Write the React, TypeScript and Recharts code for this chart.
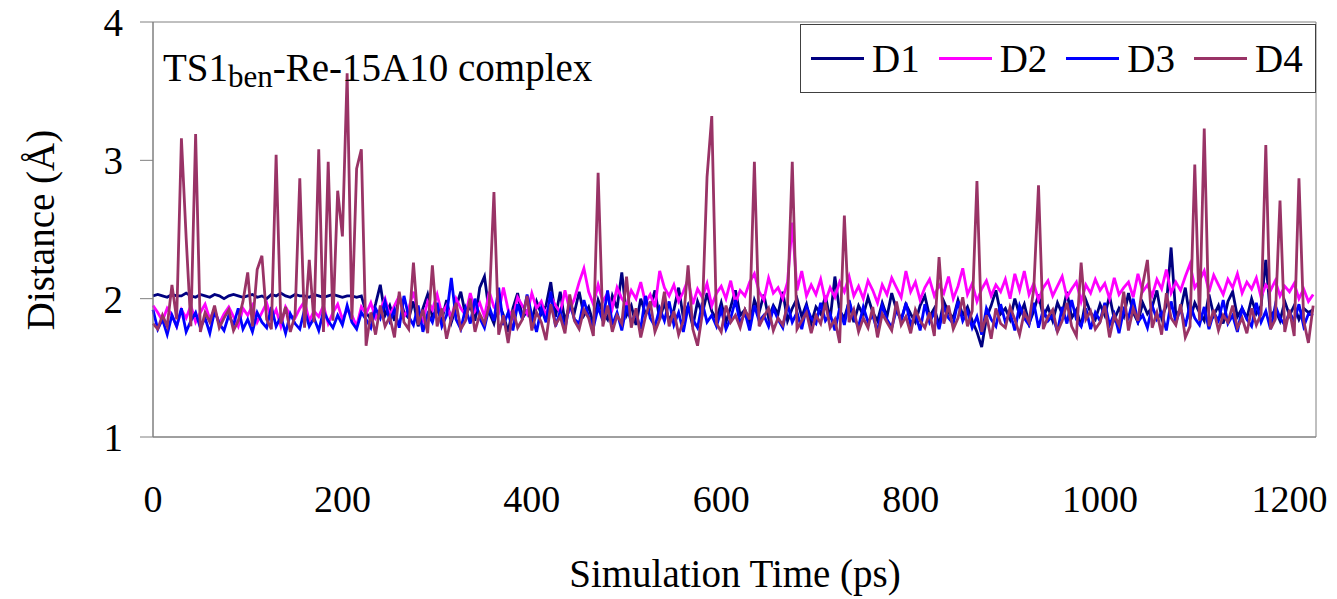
import React from 'react'
import { LineChart, Line, XAxis, YAxis, Legend, ReferenceArea } from 'recharts'

// time step between samples (ps)
const step = 5

const d1 = [
  2.02, 2.03, 2.02, 2.01, 2.03, 2.02, 2.02, 2.04, 2.02, 2.01,
  2.03, 2.02, 2.01, 2.03, 2.02, 2.00, 2.02, 2.03, 2.02, 2.01,
  2.02, 2.03, 2.01, 2.02, 2.00, 2.03, 2.02, 2.04, 2.02, 2.01,
  2.03, 2.02, 2.02, 2.01, 2.03, 2.02, 2.01, 2.02, 2.03, 2.02,
  2.01, 2.02, 2.02, 2.01, 2.02, 1.90, 1.85, 1.96, 2.10, 1.88,
  1.95, 1.84, 2.02, 1.90, 1.86, 1.98, 1.80, 1.93, 2.03, 1.87,
  1.92, 1.85, 1.99, 1.83, 1.94, 2.05, 1.88, 1.95, 1.84, 2.08,
  2.16, 1.90, 1.82, 1.97, 1.88, 1.76, 1.93, 2.04, 1.86, 1.91,
  1.84, 1.98, 1.89, 1.95, 2.12, 1.87, 2.05, 1.83, 1.96, 1.90,
  2.05, 1.88, 1.94, 1.82, 1.99, 1.90, 1.85, 2.02, 1.93, 2.19,
  1.88, 1.95, 1.81, 2.00, 1.89, 1.93, 2.06, 1.85, 1.97, 1.84,
  1.92, 2.08, 1.86, 1.95, 1.80, 1.98, 1.89, 2.04, 1.91, 1.85,
  1.97, 1.83, 1.94, 2.06, 1.88, 1.92, 1.81, 1.99, 1.90, 2.03,
  1.86, 1.95, 1.89, 2.05, 1.84, 1.93, 2.00, 1.87, 1.96, 1.82,
  1.94, 1.89, 2.02, 1.85, 2.16, 1.91, 1.86, 1.98, 1.83, 1.95,
  1.88, 2.01, 1.90, 1.84, 1.97, 1.87, 2.04, 1.92, 1.85, 1.96,
  1.89, 1.83, 1.95, 2.02, 1.87, 1.93, 1.81, 1.98, 1.90, 1.86,
  1.99, 1.88, 1.94, 1.84, 1.76, 1.65, 1.86, 1.95, 2.06, 1.89,
  1.93, 1.85, 2.00, 1.88, 1.96, 1.82, 1.91, 2.03, 1.87, 1.94,
  1.84, 1.97, 1.89, 2.05, 1.86, 1.92, 1.80, 1.99, 1.90, 1.85,
  1.96, 1.88, 2.02, 1.85, 1.93, 1.87, 2.04, 1.90, 1.83, 1.97,
  1.89, 1.94, 2.06, 1.86, 1.95, 2.37, 1.88, 1.92, 2.08, 1.85,
  1.97, 1.90, 1.84, 2.03, 1.88, 1.95, 1.82, 1.98, 2.05, 1.87,
  1.93, 1.86, 2.00, 1.89, 1.95, 2.28, 1.87, 1.92, 1.84, 1.98,
  1.88, 1.95, 1.85, 1.93, 1.90, 1.92,
]

const d2 = [
  1.95, 1.90, 1.84, 1.93, 1.88, 1.80, 1.92, 1.86, 1.95, 1.83,
  1.90, 1.96, 1.85, 1.92, 1.82, 1.89, 1.94, 1.87, 1.80, 1.93,
  1.88, 1.95, 1.83, 1.90, 1.97, 1.85, 1.92, 1.80, 1.94, 1.88,
  1.86, 1.93, 1.98, 1.84, 1.91, 1.87, 1.95, 1.82, 1.90, 1.96,
  1.85, 1.92, 1.88, 1.80, 1.94, 1.89, 1.97, 1.86, 1.92, 2.00,
  1.88, 1.95, 2.02, 1.87, 1.93, 2.05, 1.90, 1.84, 1.98, 1.92,
  2.03, 1.89, 1.95, 1.86, 2.00, 1.93, 1.88, 2.04, 1.91, 1.97,
  1.87, 2.05, 1.94, 1.90, 2.08, 1.92, 1.86, 2.01, 1.95, 1.89,
  2.04, 1.93, 1.98, 1.87, 2.02, 1.95, 1.90, 2.06, 1.92, 2.00,
  2.12, 2.22, 2.05, 1.96, 2.10, 1.98, 2.04, 1.93, 2.08, 2.00,
  1.95, 2.06, 2.00, 2.12, 1.97, 2.03, 1.94, 2.20, 2.08, 2.02,
  2.10, 1.98, 2.05, 2.14, 1.96, 2.07, 2.01, 2.11, 1.95, 2.04,
  2.09, 2.00, 2.13, 1.97, 2.06, 2.02, 2.12, 2.18, 2.05, 1.99,
  2.15, 2.04, 2.08, 2.00, 2.12, 2.55, 2.06, 2.20, 2.02, 2.10,
  2.03, 2.14, 1.98, 2.08, 2.01, 2.12, 2.05, 2.16, 2.02, 2.09,
  2.00, 2.13, 2.06, 1.97, 2.10, 2.03, 2.15, 2.08, 2.01, 2.20,
  2.05, 2.12, 1.99, 2.08, 2.14, 2.02, 2.10, 2.04, 2.16, 2.00,
  2.09, 2.22, 2.03, 2.11, 1.98, 2.07, 2.13, 2.02, 2.10, 2.05,
  2.14, 2.00, 2.18, 2.06, 2.20, 2.03, 2.11, 1.99, 2.08, 2.13,
  2.02, 2.09, 2.16, 2.01, 2.07, 2.12, 1.98, 2.10, 2.04, 2.14,
  2.06, 2.11, 2.00, 2.15, 2.03, 2.08, 2.12, 2.01, 2.18, 2.05,
  2.10, 2.02, 2.14, 2.07, 2.21, 2.04, 2.12, 2.06, 2.16, 2.25,
  2.08, 2.13, 2.20, 2.05, 2.17, 2.10, 2.03, 2.14, 2.08, 2.18,
  2.04, 2.12, 2.07, 2.15, 2.01, 2.10, 2.06, 2.13, 2.02, 2.09,
  2.05, 2.11, 2.00, 2.07, 1.98, 2.03,
]

const d3 = [
  1.92, 1.78, 1.85, 1.74, 1.88, 1.80, 1.93, 1.76, 1.84, 1.90,
  1.79, 1.86, 1.75, 1.91, 1.82, 1.77, 1.88, 1.81, 1.93, 1.78,
  1.85, 1.76, 1.90, 1.83, 1.79, 1.94, 1.80, 1.87, 1.75, 1.89,
  1.82, 1.78, 1.92, 1.80, 1.86, 1.77, 1.91, 1.84, 1.79, 1.88,
  1.81, 1.95, 1.83, 1.78, 1.90, 1.85, 1.79, 1.93, 1.86, 1.98,
  1.84, 1.92, 1.79, 2.02, 1.87, 1.81, 1.95, 1.76, 1.89, 1.83,
  1.97, 1.80, 1.88, 2.15, 1.85, 1.78, 1.93, 1.82, 2.00, 1.86,
  1.79, 1.94, 1.84, 2.08, 1.81, 1.90, 1.77, 1.96, 1.85, 2.03,
  1.88, 1.76, 1.93, 1.83, 2.05, 1.80, 1.91, 1.78, 1.97, 1.85,
  1.82, 1.99, 1.87, 1.79, 1.94, 1.84, 2.06, 1.81, 1.90, 1.77,
  1.95, 1.83, 1.89, 1.78, 2.02, 1.86, 1.80, 1.93, 1.84, 1.98,
  1.81, 1.90, 1.76, 1.94, 1.85, 1.79, 1.97, 1.83, 1.88, 1.80,
  1.92, 1.78, 1.86, 1.99, 1.82, 1.90, 1.77, 1.95, 1.84, 1.88,
  1.80, 1.93, 1.85, 1.79, 1.96, 1.83, 1.90, 1.78, 1.94, 1.86,
  1.82, 1.97, 1.84, 1.89, 1.77, 1.93, 1.81, 1.99, 1.86, 1.80,
  1.94, 1.83, 1.88, 1.76, 1.95, 1.85, 1.79, 1.92, 1.84, 1.97,
  1.81, 1.89, 1.77, 1.96, 1.83, 1.90, 1.78, 1.94, 1.86, 1.82,
  1.98, 1.84, 1.91, 1.79, 1.87, 1.74, 1.93, 1.85, 1.80, 1.96,
  1.83, 1.90, 1.77, 1.95, 1.86, 1.81, 1.97, 1.79, 1.92, 1.84,
  1.88, 1.76, 1.94, 1.82, 1.99, 1.85, 1.80, 1.93, 1.78, 1.90,
  1.84, 1.97, 1.81, 1.89, 1.75, 1.92, 1.86, 2.00, 1.83, 1.88,
  1.79, 1.95, 1.85, 1.90, 1.77, 1.98, 1.83, 1.93, 1.80, 1.96,
  1.86, 1.81, 1.94, 1.78, 1.90, 1.84, 1.99, 1.82, 1.88, 1.76,
  1.93, 1.85, 1.80, 1.97, 1.83, 1.91, 1.78, 1.95, 1.86, 1.81,
  1.90, 1.84, 1.96, 1.80, 1.89, 1.88,
]

const d4 = [
  1.82, 1.78, 1.88, 1.80, 2.10, 1.85, 3.16, 2.44, 1.80, 3.19,
  1.76, 1.90, 1.83, 1.95, 1.79, 1.86, 1.92, 1.77, 1.84, 1.98,
  2.19, 1.80, 2.21, 2.31, 1.85, 1.78, 3.04, 1.82, 1.94, 1.76,
  1.88, 2.87, 1.79, 2.28, 1.83, 3.08, 1.76, 2.99, 1.84, 2.78,
  2.45, 3.63, 1.85, 2.94, 3.08, 1.66, 1.90, 1.74, 1.95, 1.80,
  1.87, 1.72, 2.05, 1.83, 1.78, 2.26, 1.81, 1.92, 1.75, 2.24,
  1.80, 1.93, 1.71, 1.86, 1.97, 1.78, 1.84, 2.00, 1.76, 1.89,
  1.82, 1.95, 2.77, 1.74, 1.88, 1.68, 1.92, 1.79, 1.85, 2.02,
  1.77, 1.90, 1.83, 1.70, 1.96, 1.81, 1.87, 1.75, 2.03, 1.84,
  1.78, 1.92, 1.86, 1.73, 2.91, 1.80, 1.95, 1.76, 1.88, 1.82,
  2.16, 1.79, 1.93, 1.72, 1.87, 1.98, 1.76, 1.85, 2.05, 1.80,
  1.91, 1.74, 1.84, 2.24, 1.78, 1.66, 1.89, 2.88, 3.32, 1.82,
  1.76, 1.95, 1.83, 1.88, 1.79, 1.92, 1.85, 2.99, 1.80, 1.87,
  1.93, 1.77, 1.86, 1.81, 1.96, 2.99, 1.78, 1.84, 1.90, 1.75,
  1.88, 1.82, 1.97, 1.79, 1.85, 1.68, 2.60, 1.83, 1.92, 1.76,
  1.86, 1.79, 1.94, 1.72, 1.89, 1.83, 1.77, 1.98, 1.81, 1.87,
  1.75, 1.92, 1.84, 1.79, 1.90, 1.73, 2.30, 1.82, 1.95, 1.78,
  1.86, 2.01, 1.80, 1.91, 2.85, 1.76, 1.88, 1.71, 1.93, 1.82,
  1.79, 1.94, 1.85, 1.74, 1.90, 1.83, 2.07, 2.82, 1.78, 1.87,
  1.92, 1.76, 1.84, 1.97, 1.80, 1.73, 2.26, 1.85, 1.91, 1.78,
  1.83, 1.95, 1.72, 1.88, 1.81, 2.05, 1.77, 1.93, 1.84, 2.10,
  2.28, 1.79, 1.90, 1.74, 2.04, 1.86, 1.81, 1.96, 1.72, 1.80,
  2.97, 1.84, 3.23, 1.80, 1.92, 1.77, 1.88, 1.83, 1.95, 1.79,
  1.86, 1.75, 1.93, 1.81, 1.89, 3.11, 1.78, 1.85, 2.71, 1.76,
  1.92, 1.73, 2.87, 1.84, 1.68, 1.95,
]

const xTicks = [0, 200, 400, 600, 800, 1000, 1200]
const yTicks = [1, 2, 3, 4]

const series = [
  { key: 'D1', color: '#000080', values: d1 },
  { key: 'D2', color: '#FF00FF', values: d2 },
  { key: 'D3', color: '#0000FF', values: d3 },
  { key: 'D4', color: '#993366', values: d4 },
]

const chartData = d1.map((_, i) => ({
  time: i * step,
  D1: d1[i],
  D2: d2[i],
  D3: d3[i],
  D4: d4[i],
}))

const FONT = '"Liberation Serif", "Times New Roman", serif'

const renderLegend = (props: any) => {
  const { payload } = props
  return (
    <div style={{
      width: 516, height: 69, border: '1px solid #404040', background: '#fff',
      boxSizing: 'border-box', display: 'flex', alignItems: 'center', paddingLeft: 10,
      fontFamily: FONT,
    }}>
      {payload.map((entry: any) => (
        <div key={entry.value} style={{ display: 'flex', alignItems: 'center', marginRight: 19 }}>
          <span style={{ display: 'inline-block', width: 53, height: 3, background: entry.color, marginRight: 8 }} />
          <span style={{ fontSize: 39, lineHeight: '40px', color: '#000' }}>{entry.value}</span>
        </div>
      ))}
    </div>
  )
}

export default function App() {
  return (
    <div style={{ position: 'absolute', left: 0, top: 0, width: 1337, height: 599, background: '#fff', fontFamily: FONT }}>
      <LineChart width={1337} height={599} data={chartData} margin={{ top: 22, right: 21, left: 0, bottom: 0 }}>
        <ReferenceArea x1={0} x2={1228} y1={1} y2={4} fill="none" stroke="#808080" strokeWidth={1} ifOverflow="visible" />
        <XAxis
          dataKey="time"
          type="number"
          domain={[0, 1228]}
          ticks={xTicks}
          height={162}
          axisLine={{ stroke: '#808080' }}
          tickLine={false}
          tickSize={0}
          tickMargin={48}
          tick={{ fill: '#000', fontSize: 38, fontFamily: FONT }}
          label={{
            content: () => (
              <text x={735} y={587} textAnchor="middle" fontSize={39} fontFamily={FONT} fill="#000">
                Simulation Time (ps)
              </text>
            ),
          }}
        />
        <YAxis
          domain={[1, 4]}
          ticks={yTicks}
          width={153}
          axisLine={{ stroke: '#808080' }}
          tickLine={{ stroke: '#808080' }}
          tickSize={13}
          tickMargin={17}
          tick={{ fill: '#000', fontSize: 39, fontFamily: FONT }}
          label={{
            content: () => (
              <text x={40} y={230} transform="rotate(-90 40 230)" textAnchor="middle" dominantBaseline="central"
                fontSize={39} fontFamily={FONT} fill="#000">
                Distance (Å)
              </text>
            ),
          }}
        />
        <Legend
          content={renderLegend}
          layout="horizontal"
          verticalAlign="middle"
          align="center"
          wrapperStyle={{ left: 800, top: 24, width: 516 }}
        />
        {series.map(s => (
          <Line
            key={s.key}
            type="linear"
            dataKey={s.key}
            stroke={s.color}
            strokeWidth={2.8}
            dot={false}
            isAnimationActive={false}
          />
        ))}
      </LineChart>
      <div style={{ position: 'absolute', left: 163, top: 46, fontSize: 39, lineHeight: '44px', color: '#000', whiteSpace: 'nowrap' }}>
        TS1<span style={{ fontSize: 31, position: 'relative', top: 6 }}>ben</span>-Re-15A10 complex
      </div>
    </div>
  )
}
